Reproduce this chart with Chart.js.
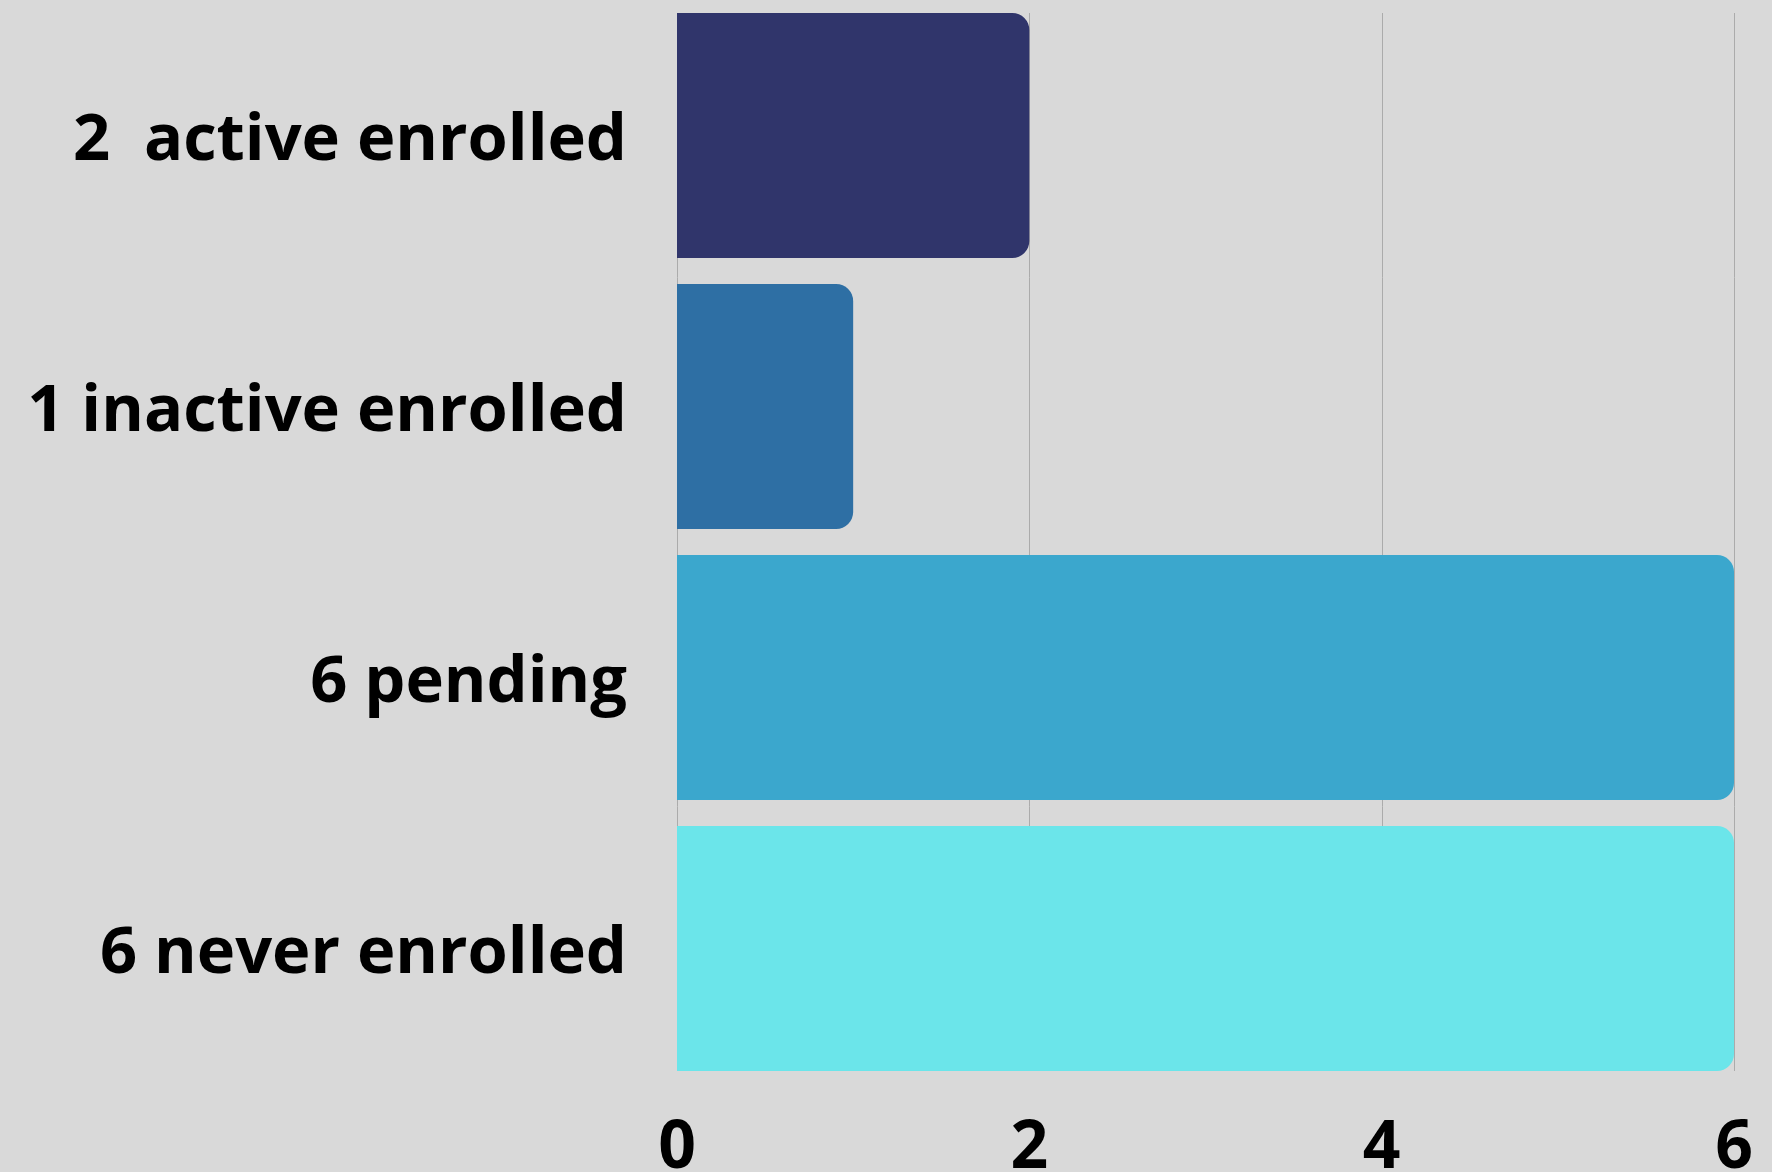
<!DOCTYPE html>
<html>
<head>
<meta charset="utf-8">
<script src="https://cdn.jsdelivr.net/npm/chart.js@4"></script>
<style>
  html, body { margin: 0; padding: 0; background: #d9d9d9; }
  #wrap { width: 1772px; height: 1172px; }
</style>
</head>
<body>
<div id="wrap"><canvas id="c" width="1772" height="1172"></canvas></div>
<script>
const categories = ["2  active enrolled", "1 inactive enrolled", "6 pending", "6 never enrolled"];
const values = [2, 1, 6, 6];
const barColors = ["#30356b", "#2e6fa4", "#3ba7cd", "#6be5ea"];
const xTicks = [0, 2, 4, 6];

const gridPlugin = {
  id: 'clippedGrid',
  beforeDatasetsDraw(chart) {
    const meta = chart.getDatasetMeta(0);
    const els = meta.data;
    if (!els.length) return;
    let top = Infinity, bottom = -Infinity;
    els.forEach(e => {
      const p = e.getProps(['y', 'height'], true);
      top = Math.min(top, p.y - p.height / 2);
      bottom = Math.max(bottom, p.y + p.height / 2);
    });
    const xs = chart.scales.x;
    const ctx = chart.ctx;
    ctx.save();
    ctx.strokeStyle = '#ababab';
    ctx.lineWidth = 1;
    xTicks.forEach(v => {
      const x = Math.round(xs.getPixelForValue(v)) + 0.5;
      ctx.beginPath();
      ctx.moveTo(x, top);
      ctx.lineTo(x, bottom);
      ctx.stroke();
    });
    ctx.restore();
  }
};

const bgPlugin = {
  id: 'bg',
  beforeDraw(chart) {
    const ctx = chart.ctx;
    ctx.save();
    ctx.fillStyle = '#d9d9d9';
    ctx.fillRect(0, 0, chart.width, chart.height);
    ctx.restore();
  }
};

new Chart(document.getElementById('c'), {
  type: 'bar',
  data: {
    labels: categories,
    datasets: [{
      data: values,
      backgroundColor: barColors,
      borderWidth: 0,
      borderRadius: { topLeft: 0, bottomLeft: 0, topRight: 17, bottomRight: 17 },
      borderSkipped: false,
      categoryPercentage: 1.0,
      barPercentage: 0.904
    }]
  },
  options: {
    indexAxis: 'y',
    responsive: false,
    animation: false,
    devicePixelRatio: 1,
    layout: { padding: { top: 0, right: 38, bottom: 0, left: 0 } },
    plugins: { legend: { display: false }, tooltip: { enabled: false } },
    scales: {
      x: {
        min: 0, max: 6,
        afterBuildTicks(scale) { scale.ticks = xTicks.map(v => ({ value: v })); },
        grid: { display: false, drawTicks: false },
        border: { display: false },
        ticks: {
          padding: 26,
          color: '#000000',
          font: { family: 'Open Sans', weight: '700', size: 66 },
          maxRotation: 0
        },
        afterFit(scale) { scale.height = 88; scale.paddingLeft = 0; scale.paddingRight = 0; }
      },
      y: {
        grid: { display: false, drawTicks: false },
        border: { display: false },
        ticks: {
          padding: 50,
          labelOffset: 6,
          color: '#000000',
          font: { family: 'Open Sans', weight: '700', size: 65 }
        },
        afterFit(scale) { scale.width = 677; scale.paddingTop = 0; scale.paddingBottom = 0; }
      }
    }
  },
  plugins: [bgPlugin, gridPlugin]
});
</script>
</body>
</html>
